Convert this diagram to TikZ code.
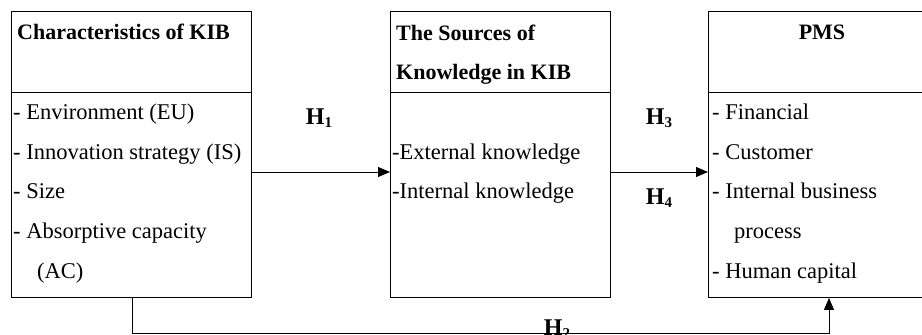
\documentclass[tikz,border=0pt]{standalone}
\usepackage{fontspec}
\setmainfont{Liberation Serif}
\usetikzlibrary{arrows.meta}
\begin{document}
\begin{tikzpicture}[x=1pt,y=-1pt,
  box/.style={draw,line width=0.9pt,anchor=north west,inner sep=0pt},
  txt/.style={anchor=base west,inner sep=0pt,font=\fontsize{22.5}{24}\selectfont},
  hd/.style={txt,font=\fontsize{22}{24}\selectfont\bfseries},
  hl/.style={anchor=base,inner sep=0pt,font=\fontsize{24}{26}\selectfont\bfseries},
  conn/.style={line width=0.9pt},
  arr/.style={conn,-{Triangle[length=12pt,width=10pt]}}]
\useasboundingbox (0,0) rectangle (922,335);
% boxes
\node[box,minimum width=240pt,minimum height=286pt] (L) at (11,11) {};
\node[box,minimum width=220pt,minimum height=286pt] (M) at (390,11) {};
\node[box,minimum width=240pt,minimum height=286pt] (R) at (708,11) {};
\draw[conn] (L.west |- 0,92) -- (L.east |- 0,92);
\draw[conn] (M.west |- 0,92) -- (M.east |- 0,92);
\draw[conn] (R.west |- 0,92) -- (R.east |- 0,92);
% left texts
\node[hd] (lh) at (17,39) {Characteristics of KIB};
\node[txt] (l1) at (13,119) {- Environment (EU)};
\node[txt] (l2) at (13,159) {- Innovation strategy (IS)};
\node[txt] (l3) at (13,198) {- Size};
\node[txt] (l4) at (13,238) {- Absorptive capacity};
\node[txt] (l5) at (37,278) {(AC)};
% middle texts
\node[hd] (mh1) at (396,40) {The Sources of};
\node[hd] (mh2) at (396,79) {Knowledge in KIB};
\node[txt] (m1) at (392,159) {-External knowledge};
\node[txt] (m2) at (392,198) {-Internal knowledge};
% right texts
\node[hd,anchor=base] (rh) at (822,39) {PMS};
\node[txt] (r1) at (712,119) {- Financial};
\node[txt] (r2) at (712,159) {- Customer};
\node[txt] (r3) at (712,198) {- Internal business};
\node[txt] (r4) at (734,238) {process};
\node[txt] (r5) at (712,278) {- Human capital};
% connectors
\coordinate (y1) at (0,172);
\draw[arr] (L.east |- y1) -- (M.west |- y1);
\draw[arr] (M.east |- y1) -- (R.west |- y1);
\coordinate (b1) at (132,333);
\coordinate (b2) at (829,333);
\draw[arr] (L.south -| b1) -- (b1) -- (b2) -- (R.south -| b2);
% labels
\node[hl] (h1) at (319,124) {H\raisebox{-3pt}{\fontsize{15}{15}\selectfont 1}};
\node[hl] (h3) at (659,124) {H\raisebox{-3pt}{\fontsize{15}{15}\selectfont 3}};
\node[hl] (h4) at (659,204) {H\raisebox{-3pt}{\fontsize{15}{15}\selectfont 4}};
\node[hl] (h2) at (557,335) {H\raisebox{-3pt}{\fontsize{15}{15}\selectfont 2}};
\end{tikzpicture}
\end{document}
